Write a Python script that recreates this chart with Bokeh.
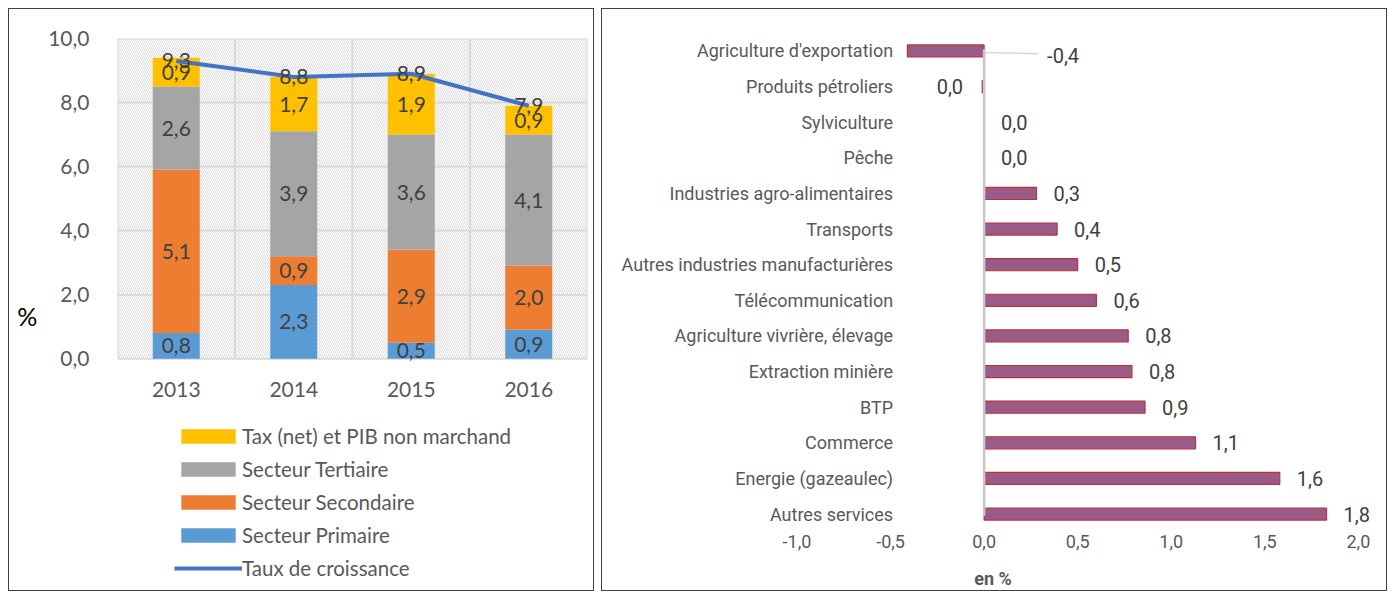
import numpy as np
from bokeh.plotting import figure
from bokeh.models import (Range1d, FixedTicker, BoxAnnotation, Legend, LegendItem,
                          ColumnDataSource, LabelSet)
from bokeh.core.properties import value
from bokeh.layouts import row
from bokeh.embed import file_html
from bokeh.resources import INLINE

# ---------------- data: left chart ----------------
years = ["2013", "2014", "2015", "2016"]
primaire = [0.8, 2.3, 0.5, 0.9]
secondaire = [5.1, 0.9, 2.9, 2.0]
tertiaire = [2.6, 3.9, 3.6, 4.1]
tax = [0.9, 1.7, 1.9, 0.9]
croissance = [9.3, 8.8, 8.9, 7.9]
series_names = ["Secteur Primaire", "Secteur Secondaire", "Secteur Tertiaire",
                "Tax (net) et PIB non marchand"]
line_name = "Taux de croissance"
y_ticks_left = [0, 2, 4, 6, 8, 10]

# ---------------- data: right chart ----------------
branches = ["Agriculture d'exportation", "Produits pétroliers", "Sylviculture", "Pêche",
            "Industries agro-alimentaires", "Transports",
            "Autres industries manufacturières", "Télécommunication",
            "Agriculture vivrière, élevage", "Extraction minière", "BTP", "Commerce",
            "Energie (gazeaulec)", "Autres services"]
contrib = [-0.41, -0.01, 0.0, 0.0, 0.28, 0.39, 0.50, 0.60, 0.77, 0.79, 0.86, 1.13, 1.58, 1.83]
x_ticks_right = [-1.0, -0.5, 0.0, 0.5, 1.0, 1.5, 2.0]


def fmt(v):
    r = round(v, 1)
    if abs(r) < 0.05:
        r = 0.0
    return f"{r:.1f}".replace(".", ",")


FONT_L = "Lato"
FONT_R = "Roboto"
GREY_TXT = "#595959"
DARK_TXT = "#404040"
GRID = "#d9d9d9"
BORDER = {"border": "1px solid #404040"}

# ================= LEFT FIGURE =================
# the plotting frame extends below the bars so that the legend can sit inside it
Y_MAX = max(y_ticks_left)
Y_LO = -7.304
X_MAX = len(years)
p1 = figure(frame_width=468, frame_height=552, output_backend="svg", toolbar_location=None,
            x_range=Range1d(0, X_MAX), y_range=Range1d(Y_LO, Y_MAX),
            min_border_left=108, min_border_right=8, min_border_top=29, min_border_bottom=0,
            styles=BORDER, margin=(8, 0, 0, 8))
p1.outline_line_color = None
p1.background_fill_color = "white"
p1.grid.visible = False
p1.xaxis.visible = False

bg = BoxAnnotation(left=0, right=X_MAX, bottom=0, top=Y_MAX, level="image",
                   fill_color="white", fill_alpha=1.0, line_color=None,
                   hatch_pattern="right_diagonal_line", hatch_color="#dcdcdc",
                   hatch_scale=4, hatch_weight=1, hatch_alpha=1.0)
p1.add_layout(bg)

# grid lines limited to the plot area
p1.segment(x0=[0] * len(y_ticks_left), y0=y_ticks_left, x1=[X_MAX] * len(y_ticks_left),
           y1=y_ticks_left, line_color=GRID, line_width=2)
vx = list(range(X_MAX + 1))
p1.segment(x0=vx, y0=[0] * len(vx), x1=vx, y1=[Y_MAX] * len(vx), line_color=GRID, line_width=2)

xc = np.arange(len(years)) + 0.5
p1.yaxis.ticker = FixedTicker(ticks=y_ticks_left)
p1.yaxis.bounds = (0, Y_MAX)
p1.yaxis.major_label_overrides = {t: fmt(t) for t in y_ticks_left}
p1.yaxis.axis_line_color = None
p1.yaxis.major_tick_line_color = None
p1.yaxis.minor_tick_line_color = None
p1.yaxis.major_label_text_font = FONT_L
p1.yaxis.major_label_text_font_size = "21px"
p1.yaxis.major_label_text_color = GREY_TXT
p1.yaxis.major_label_standoff = 22
p1.yaxis.axis_label = "%"
p1.yaxis.axis_label_orientation = "horizontal"
p1.yaxis.axis_label_text_font = FONT_L
p1.yaxis.axis_label_text_font_style = "normal"
p1.yaxis.axis_label_text_font_size = "25px"
p1.yaxis.axis_label_text_color = "black"
p1.yaxis.axis_label_standoff = 8

# category (year) labels under the bars
p1.add_layout(LabelSet(x="x", y="y", text="t", y_offset=-31, text_align="center",
                       text_baseline="middle", text_font=value(FONT_L), text_font_size="21px",
                       text_color=GREY_TXT,
                       source=ColumnDataSource(dict(x=list(xc), y=[0] * len(years), t=years))))

stack = [primaire, secondaire, tertiaire, tax]
colors = ["#5b9bd5", "#ed7d31", "#a5a5a5", "#ffc000"]
bottom = np.zeros(len(years))
bar_renderers = []
lab_x, lab_y, lab_t = [], [], []
for vals, col in zip(stack, colors):
    v = np.array(vals)
    top = bottom + v
    r = p1.vbar(x=xc, bottom=bottom, top=top, width=0.4, fill_color=col, line_color=None)
    bar_renderers.append(r)
    lab_x += list(xc)
    lab_y += list((bottom + top) / 2)
    lab_t += [fmt(a) for a in vals]
    bottom = top

line_r = p1.line(xc, croissance, line_color="#4472c4", line_width=4)
p1.text(x=lab_x, y=lab_y, text=lab_t, text_font=value(FONT_L), text_font_size="21px",
        text_color=DARK_TXT, text_align="center", text_baseline="middle")
p1.text(x=list(xc), y=croissance, text=[fmt(a) for a in croissance], text_font=value(FONT_L),
        text_font_size="21px", text_color=DARK_TXT, text_align="center", text_baseline="middle")

items = [LegendItem(label=series_names[3], renderers=[bar_renderers[3]]),
         LegendItem(label=series_names[2], renderers=[bar_renderers[2]]),
         LegendItem(label=series_names[1], renderers=[bar_renderers[1]]),
         LegendItem(label=series_names[0], renderers=[bar_renderers[0]]),
         LegendItem(label=line_name, renderers=[line_r])]
leg = Legend(items=items, location=(57, 12), orientation="vertical",
             glyph_width=68, glyph_height=18, label_standoff=0, spacing=9,
             label_text_font=FONT_L, label_text_font_size="20.5px", label_text_color=GREY_TXT,
             border_line_color=None, background_fill_alpha=0, padding=0, margin=0)
p1.add_layout(leg)

# ================= RIGHT FIGURE =================
n = len(branches)
ypos = [n - 1 - i for i in range(n)]
X_LO, X_HI = -2.034, 2.129      # visible plot span (category labels sit inside it)
Y_PAD = 0.35
p2 = figure(frame_width=777, frame_height=486, output_backend="svg", toolbar_location=None,
            x_range=Range1d(X_LO, X_HI), y_range=Range1d(-Y_PAD, n - 1 + Y_PAD),
            min_border_left=1, min_border_right=6, min_border_top=16, min_border_bottom=79,
            styles=BORDER, margin=(8, 0, 0, 7))
p2.outline_line_color = None
p2.grid.grid_line_color = None
p2.yaxis.visible = False

neg_i = int(np.argmin(contrib))
p2.segment(x0=[contrib[neg_i]], y0=[ypos[neg_i]], x1=[0.29], y1=[ypos[neg_i] - 0.08],
           line_color="#d9d9d9", line_width=1.5)
p2.hbar(y=ypos, left=0, right=contrib, height=0.34, fill_color="#9a5c86",
        line_color="#b8323f", line_width=1.2)
p2.segment(x0=[0], y0=[min(ypos) - 0.05], x1=[0], y1=[max(ypos) + 0.05],
           line_color="#c6c6c6", line_width=2.5)

src_cat = ColumnDataSource(dict(y=ypos, t=branches, x=[0.0] * n))
p2.add_layout(LabelSet(x="x", y="y", text="t", source=src_cat, x_offset=-91,
                       text_align="right", text_baseline="middle", text_font=value(FONT_R),
                       text_font_size="18px", text_color=GREY_TXT))

pos_x, pos_y, pos_t = [], [], []
negs_x, negs_y, negs_t = [], [], []
mv_x, mv_y, mv_t = [], [], []
for i, v in enumerate(contrib):
    if i == neg_i:
        mv_x.append(0.0); mv_y.append(ypos[i]); mv_t.append(fmt(v))
    elif v < 0:
        negs_x.append(0.0); negs_y.append(ypos[i]); negs_t.append(fmt(v))
    else:
        pos_x.append(v); pos_y.append(ypos[i]); pos_t.append(fmt(v))

common = dict(text_baseline="middle", text_font=value(FONT_R), text_font_size="20px",
              text_color=DARK_TXT)
p2.add_layout(LabelSet(x="x", y="y", text="t", x_offset=17, text_align="left",
                       source=ColumnDataSource(dict(x=pos_x, y=pos_y, t=pos_t)), **common))
p2.add_layout(LabelSet(x="x", y="y", text="t", x_offset=-21, text_align="right",
                       source=ColumnDataSource(dict(x=negs_x, y=negs_y, t=negs_t)), **common))
p2.add_layout(LabelSet(x="x", y="y", text="t", x_offset=63, y_offset=-5, text_align="left",
                       source=ColumnDataSource(dict(x=mv_x, y=mv_y, t=mv_t)), **common))

p2.xaxis.ticker = FixedTicker(ticks=x_ticks_right)
p2.xaxis.major_label_overrides = {t: fmt(t) for t in x_ticks_right}
p2.xaxis.axis_line_color = None
p2.xaxis.major_tick_line_color = None
p2.xaxis.minor_tick_line_color = None
p2.xaxis.major_label_text_font = FONT_R
p2.xaxis.major_label_text_font_size = "18px"
p2.xaxis.major_label_text_color = GREY_TXT
p2.xaxis.major_label_standoff = 2
p2.xaxis.axis_label = "en %"
p2.xaxis.axis_label_text_font = FONT_R
p2.xaxis.axis_label_text_font_style = "bold"
p2.xaxis.axis_label_text_font_size = "18px"
p2.xaxis.axis_label_text_color = GREY_TXT
p2.xaxis.axis_label_standoff = 17

layout = row(p1, p2)
open("out.html", "w").write(file_html(layout, INLINE))
